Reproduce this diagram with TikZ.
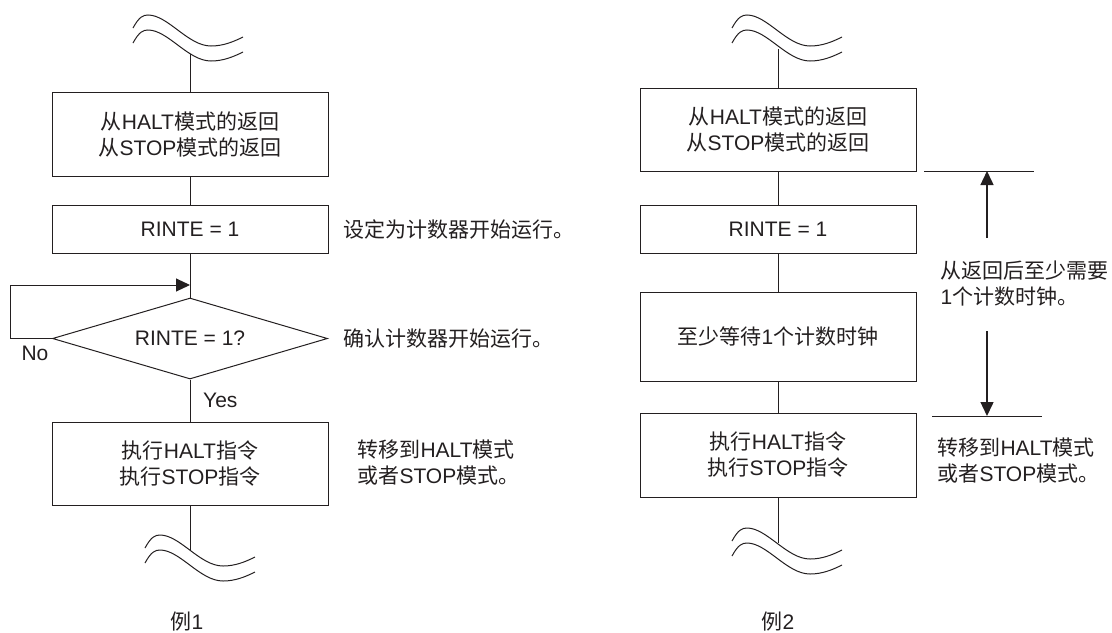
\documentclass[tikz,border=0pt]{standalone}
\usepackage{fontspec}
\setmainfont{Liberation Sans}
\newfontfamily\cjk{Noto Sans CJK SC}
\usetikzlibrary{shapes.geometric,arrows.meta}
\definecolor{ink}{HTML}{231F20}

\begin{document}
\begin{tikzpicture}[x=0.5pt, y=-0.5pt, line width=0.5pt, color=ink,
  font=\fontsize{10.5}{13}\selectfont,
  box/.style={rectangle, draw, minimum width=138pt, inner sep=0pt, align=center},
  test/.style={diamond, draw, aspect=3.4, minimum width=137.5pt, minimum height=40.5pt, inner sep=0pt},
  note/.style={anchor=west, inner sep=0pt, align=left},
  arr/.style={-{Triangle[length=7pt,width=6.5pt]}},
  brk/.pic={\foreach \dy in {0,15}
    \draw (0,13+\dy) .. controls (6,2+\dy) and (10,\dy) .. (15,\dy)
      .. controls (35,\dy) and (55,31+\dy) .. (78,31+\dy)
      .. controls (90,31+\dy) and (100,27+\dy) .. (110,22+\dy);}]
  \useasboundingbox (0,0) rectangle (1112,632);

  % example 1
  \pic at (133,15) {brk};
  \coordinate (a0) at (190,54);
  \node (a1) [box, minimum height=42pt] at (190,134) {{\cjk 从}HALT{\cjk 模式的返回}\\{\cjk 从}STOP{\cjk 模式的返回}};
  \node (a2) [box, minimum height=24pt] at (190,229) {RINTE = 1};
  \node (a3) [test] at (190,338.5) {RINTE = 1?};
  \node (a4) [box, minimum height=41.5pt] at (190,463.5) {{\cjk 执行}HALT{\cjk 指令}\\{\cjk 执行}STOP{\cjk 指令}};
  \pic at (145,535) {brk};
  \coordinate (a5) at (190,550);
  \coordinate (lp) at (190,285);

  \draw (a0) -- (a1);
  \draw (a1) -- (a2);
  \draw (a2) -- (a3);
  \draw (a3) -- node[right, pos=0.5, xshift=3pt] {Yes} (a4);
  \draw (a4) -- (a5);
  \draw[arr] (a3.west) -- ++(-42,0) |- (lp);
  \node (no) at (35,353) {No};

  \node (n1) [note] at (343,229) {\cjk 设定为计数器开始运行。};
  \node (n2) [note] at (343,339) {\cjk 确认计数器开始运行。};
  \node (n3) [note] at (357,463) {{\cjk 转移到}HALT{\cjk 模式}\\{\cjk 或者}STOP{\cjk 模式。}};
  \node (e1) at (187,622) {{\cjk 例}1};

  % example 2
  \pic at (732,15) {brk};
  \coordinate (b0) at (778,49);
  \node (b1) [box, minimum height=41.5pt] at (778,129.5) {{\cjk 从}HALT{\cjk 模式的返回}\\{\cjk 从}STOP{\cjk 模式的返回}};
  \node (b2) [box, minimum height=24pt] at (778,229) {RINTE = 1};
  \node (b3) [box, minimum height=44.5pt] at (778,336.5) {{\cjk 至少等待}1{\cjk 个计数时钟}};
  \node (b4) [box, minimum height=42pt] at (778,455) {{\cjk 执行}HALT{\cjk 指令}\\{\cjk 执行}STOP{\cjk 指令}};
  \pic at (732,528) {brk};
  \coordinate (b5) at (778,543);

  \draw (b0) -- (b1);
  \draw (b1) -- (b2);
  \draw (b2) -- (b3);
  \draw (b3) -- (b4);
  \draw (b4) -- (b5);

  \coordinate (ta) at (924,171);
  \coordinate (tb) at (1034,171);
  \coordinate (ba) at (932,416);
  \coordinate (bb) at (1042,416);
  \coordinate (ua) at (987,238);
  \coordinate (da) at (987,331);
  \draw (ta) -- (tb);
  \draw (ba) -- (bb);
  \draw[arr, line width=0.7pt] (ua) -- (ua |- ta);
  \draw[arr, line width=0.7pt] (da) -- (da |- ba);

  \node (n4) [note] at (940,284) {{\cjk 从返回后至少需要}\\1{\cjk 个计数时钟。}};
  \node (n5) [note] at (937,461) {{\cjk 转移到}HALT{\cjk 模式}\\{\cjk 或者}STOP{\cjk 模式。}};
  \node (e2) at (778,622) {{\cjk 例}2};
\end{tikzpicture}
\end{document}
